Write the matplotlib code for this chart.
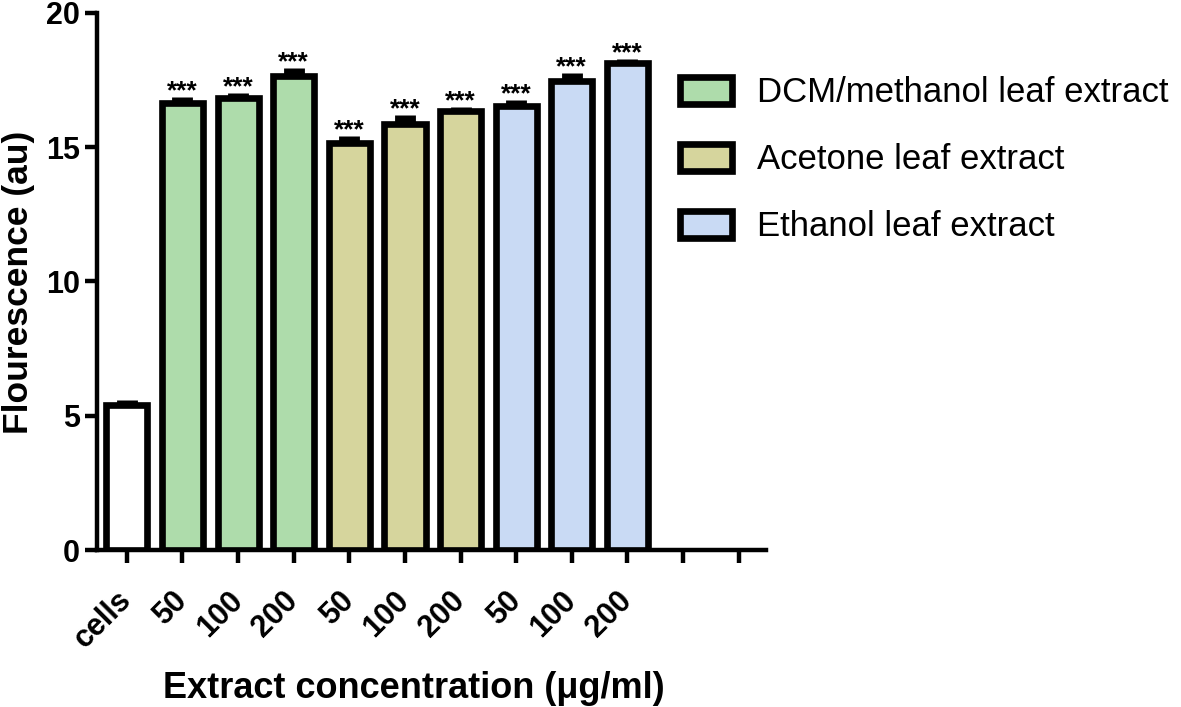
import matplotlib.pyplot as plt
from matplotlib.patches import Patch

plt.rcParams['font.family'] = ['Liberation Sans', 'DejaVu Sans']

# data
labels = ['cells', '50', '100', '200', '50', '100', '200', '50', '100', '200', '', '']
values = [5.4, 16.65, 16.83, 17.65, 15.16, 15.87, 16.35, 16.54, 17.47, 18.14]
errors = [0.18, 0.22, 0.2, 0.3, 0.24, 0.33, 0.15, 0.22, 0.28, 0.14]
groups = ['cells', 'DCM', 'DCM', 'DCM', 'Ace', 'Ace', 'Ace', 'Eth', 'Eth', 'Eth']
stars = ['', '***', '***', '***', '***', '***', '***', '***', '***', '***']
yticks = [0, 5, 10, 15, 20]
legend_names = ['DCM/methanol leaf extract', 'Acetone leaf extract', 'Ethanol leaf extract']

colors = {'cells': 'white', 'DCM': '#aedcab', 'Ace': '#d6d59d', 'Eth': '#c9daf4'}

fig = plt.figure(figsize=(11.81, 7.07), dpi=100)
ax = fig.add_axes([0.082, 0.222, 0.567, 0.760])

x = list(range(len(values)))
# error bar drawn as a thick stub behind the bar, like Prism does
ax.errorbar(x, values, yerr=[[0] * len(errors), errors], fmt='none',
            ecolor='black', elinewidth=15, capsize=0, zorder=2)
ax.bar(x, values, width=0.74, color=[colors[g] for g in groups],
       edgecolor='black', linewidth=4.8, zorder=3)

for xi, v, e, s in zip(x, values, errors, stars):
    if s:
        ax.annotate(s, (xi, v + e), xytext=(0, 4), textcoords='offset points',
                    ha='center', va='center', fontsize=19, fontweight='bold')

ax.set_xlim(-0.54, 11.5)
ax.set_ylim(0, 20)
ax.set_yticks(yticks, labels=[str(v) for v in yticks], fontsize=22, fontweight='bold')
ax.set_xticks(range(len(labels)), labels=labels, rotation=45, ha='right', va='center',
              rotation_mode='anchor', fontsize=22, fontweight='bold')
ax.tick_params(axis='both', width=3.2, length=9, direction='out')
ax.tick_params(axis='x', pad=24)
ax.tick_params(axis='y', pad=3)

for side in ['top', 'right']:
    ax.spines[side].set_visible(False)
for side in ['left', 'bottom']:
    ax.spines[side].set_linewidth(3.2)

ax.set_xlabel('Extract concentration (μg/ml)', fontsize=26, fontweight='bold')
ax.xaxis.set_label_coords(0.474, -0.257)
ax.xaxis.label.set_verticalalignment('center')
ax.set_ylabel('Flourescence (au)', fontsize=25.5, fontweight='bold')
ax.yaxis.set_label_coords(-0.117, 0.499)
ax.yaxis.label.set_verticalalignment('center')

handles = [Patch(facecolor=colors[k], edgecolor='black', linewidth=4.8)
           for k in ['DCM', 'Ace', 'Eth']]
fig.legend(handles, legend_names, loc='upper left', bbox_to_anchor=(0.576, 0.892),
           frameon=False, fontsize=25, handlelength=1.5, handleheight=0.82,
           handletextpad=0.72, labelspacing=0.98, borderpad=0, borderaxespad=0)

fig.savefig('out.png', dpi=100)
